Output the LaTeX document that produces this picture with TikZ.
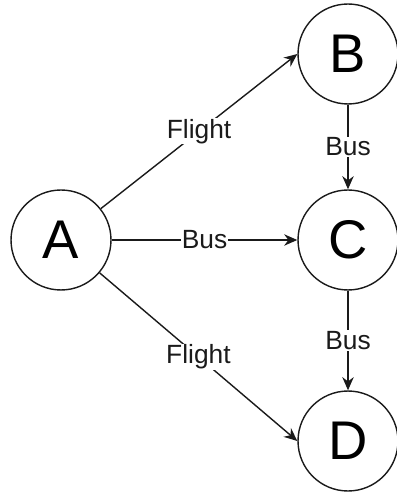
\documentclass[tikz,border=0pt]{standalone}
\usepackage{fontspec}
\setmainfont{Liberation Sans}
\usetikzlibrary{arrows.meta}
\definecolor{ink}{HTML}{1A1A1A}
\tikzset{
  town/.style={circle, draw=ink, line width=0.8pt, minimum size=2cm, inner sep=0pt, font=\fontsize{31}{31}\selectfont},
  road/.style={draw=ink, line width=0.8pt, -{Stealth[length=7.5pt, width=6.5pt]}},
  lab/.style={fill=white, inner sep=0.5pt, text=ink, font=\fontsize{15}{15}\selectfont},
}

\begin{document}
\begin{tikzpicture}[x=0.02cm, y=-0.02cm]
  \useasboundingbox (0,0) rectangle (396,492);
  % towns
  \node[town] (A) at (61,240) {A};
  \node[town] (B) at (348,54) {B};
  \node[town] (C) at (348,240) {C};
  \node[town] (D) at (348,441) {D};
  % routes
  \draw[road] (A) -- (B.west) node[lab, midway] {Flight};
  \draw[road] (A) -- (C) node[lab, midway] {Bus};
  \draw[road] (A) -- (D.west) node[lab, midway] {Flight};
  \draw[road] (B) -- (C) node[lab, midway] {Bus};
  \draw[road] (C) -- (D) node[lab, midway] {Bus};
\end{tikzpicture}
\end{document}
